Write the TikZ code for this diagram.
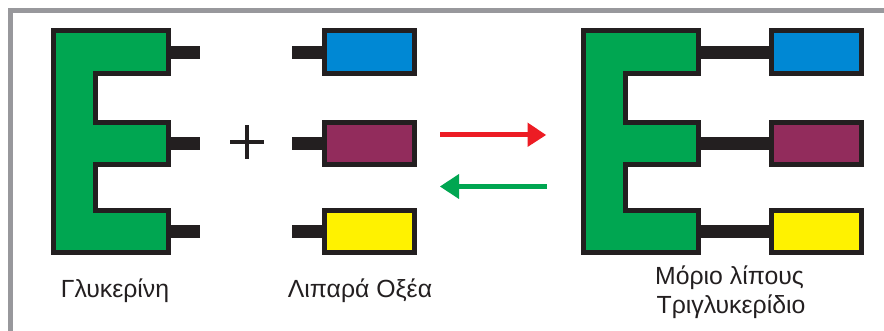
\documentclass[tikz,border=0pt]{standalone}
\usepackage{fontspec}
\setmainfont{Liberation Sans}
\definecolor{ink}{HTML}{231F20}
\definecolor{frameg}{HTML}{98989C}
\definecolor{eg}{HTML}{00A651}
\definecolor{ared}{HTML}{ED1C24}
\definecolor{cblue}{HTML}{0088D4}
\definecolor{cpurple}{HTML}{922C5C}
\definecolor{cyellow}{HTML}{FFF200}
\tikzset{
  acid/.style={draw=ink,line width=5pt,minimum width=90pt,minimum height=42.5pt,inner sep=0pt,outer sep=0pt},
  glyc/.style={draw=ink,line width=5pt,fill=eg,miter limit=10},
  stub/.style={ink,line width=13pt},
  lab/.style={text=ink,font=\fontsize{24.8}{29}\selectfont,inner sep=0pt,align=center},
  arrowline/.style={line width=5pt},
  frameline/.style={frameg,line width=5pt,miter limit=10}
}
\newcommand{\glycshape}[1]{%
  \draw[glyc] (#1+53,31) -- (#1+168,31) -- (#1+168,73.5) -- (#1+95.5,73.5) -- (#1+95.5,122.5)
    -- (#1+168,122.5) -- (#1+168,164.5) -- (#1+95.5,164.5) -- (#1+95.5,210.5) -- (#1+168,210.5)
    -- (#1+168,253) -- (#1+53,253) -- cycle;}
\begin{document}
\begin{tikzpicture}[x=1pt,y=-1pt]
\useasboundingbox (0,0) rectangle (884,331);
\clip (0,0) rectangle (884,331);
\fill[white] (0,0) rectangle (884,331);
\draw[frameline] (890,10.5) -- (10.5,10.5) -- (10.5,340);

% named anchors of the glycerol arms
\foreach \n/\y in {a/52.5,b/143.5,c/231.5}{
  \coordinate (gl\n) at (170,\y);
  \coordinate (ge\n) at (200,\y);
  \coordinate (tl\n) at (700,\y);
}
% free fatty acids
\node[acid,fill=cblue]   (fa) at (369.5,52.25) {};
\node[acid,fill=cpurple] (fb) at (369.5,143.5) {};
\node[acid,fill=cyellow] (fc) at (369.5,231.75) {};
\coordinate (sa) at (292,52.5);
\coordinate (sb) at (292,143.5);
\coordinate (sc) at (292,231.5);
% triglyceride acids
\node[acid,fill=cblue]   (ta) at (816.5,52.25) {};
\node[acid,fill=cpurple] (tb) at (816.5,143.5) {};
\node[acid,fill=cyellow] (tc) at (816.5,231.75) {};

\draw[stub] (gla) -- (gea);
\draw[stub] (glb) -- (geb);
\draw[stub] (glc) -- (gec);
\draw[stub] (sa) -- (fa.west |- sa);
\draw[stub] (sb) -- (fb.west |- sb);
\draw[stub] (sc) -- (fc.west |- sc);
\draw[stub] (tla) -- (ta.west |- tla);
\draw[stub] (tlb) -- (tb.west |- tlb);
\draw[stub] (tlc) -- (tc.west |- tlc);

\glycshape{0}
\glycshape{530}

% plus
\fill[ink] (230,140) rectangle (264,144);
\fill[ink] (245,125) rectangle (249,159);

% arrows
\coordinate (ra) at (440,135);
\coordinate (rb) at (528.5,135);
\coordinate (ga) at (546.5,186.5);
\coordinate (gb) at (458.5,186.5);
\draw[ared,arrowline] (ra) -- (rb);
\fill[ared] (527.5,122.5) -- (546,135) -- (527.5,147) -- cycle;
\draw[eg,arrowline] (ga) -- (gb);
\fill[eg] (459,174) -- (440,186.5) -- (459,199) -- cycle;

% labels
\node[lab,anchor=base] (l1) at (115,298) {Γλυκερίνη};
\node[lab,anchor=base] (l2) at (360,298) {Λιπαρά Οξέα};
\node[lab,anchor=base] (l3) at (729.5,285) {Μόριο λίπους};
\node[lab,anchor=base] (l4) at (731,313) {Τριγλυκερίδιο};
\end{tikzpicture}
\end{document}
